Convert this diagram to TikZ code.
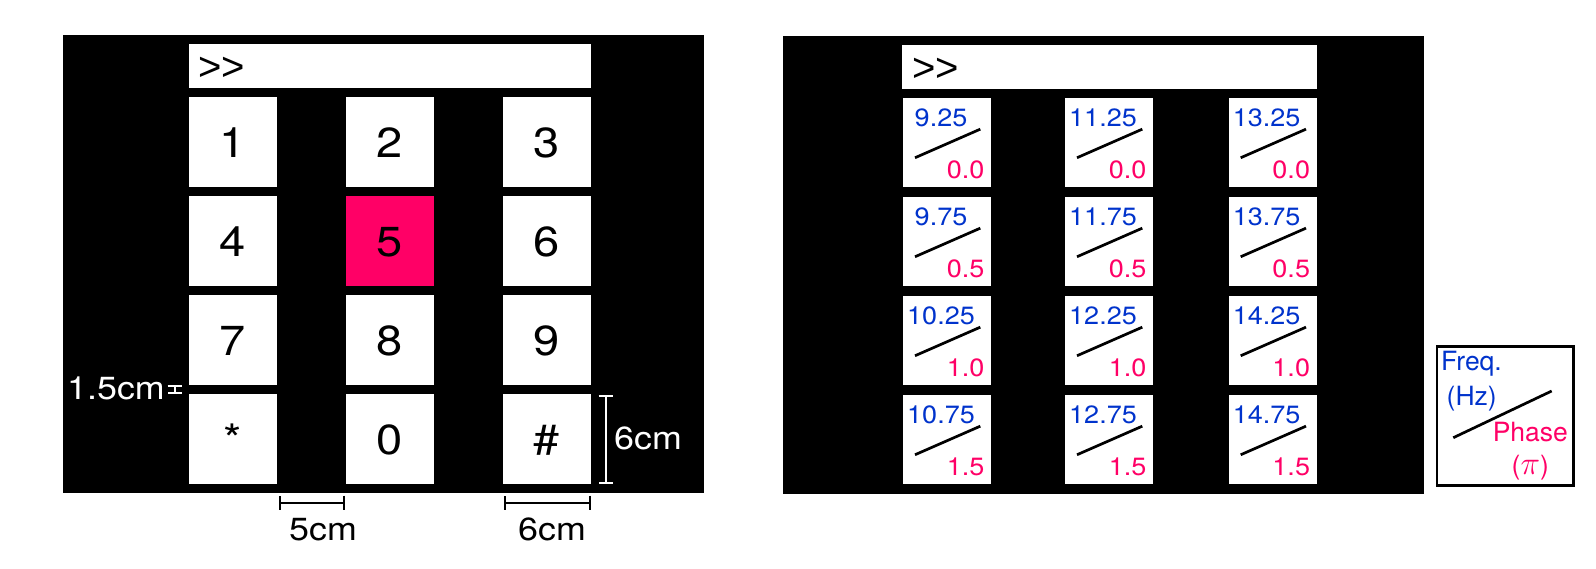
\RequirePackage{fix-cm}
\documentclass[tikz,border=0pt]{standalone}
\usepackage{fontspec}
\setmainfont{TeX Gyre Heros}
\newfontfamily\keyfam{TeX Gyre Heros}[FakeStretch=1.12]
\newfontfamily\cellfam{TeX Gyre Heros}[FakeStretch=1.08]
\newfontfamily\promptfam{Liberation Sans}[FakeStretch=1.0]
\usetikzlibrary{calc,arrows.meta}
\definecolor{hotpink}{RGB}{255,0,102}
\definecolor{freqblue}{RGB}{0,51,204}
\begin{document}
\begin{tikzpicture}[x=1pt,y=-1pt,
  panel/.style={fill=black,draw=none,inner sep=0,outer sep=0,anchor=north west},
  bar/.style={fill=white,draw=none,inner sep=0,outer sep=0,anchor=north west,minimum height=44pt},
  prompt/.style={anchor=base west,inner sep=0,font=\promptfam\fontsize{40}{40}\selectfont},
  key/.style={fill=white,draw=none,inner sep=0,outer sep=0,minimum width=88pt,minimum height=90pt,
    text height=30pt,text depth=0pt,font=\keyfam\fontsize{42}{42}\selectfont},
  cell/.style={fill=white,draw=none,inner sep=0,outer sep=0,minimum width=88pt,minimum height=89.5pt},
  freq/.style={text=freqblue,anchor=base,inner sep=0,font=\cellfam\fontsize{25}{25}\selectfont},
  phase/.style={text=hotpink,anchor=base east,inner sep=0,font=\cellfam\fontsize{25}{25}\selectfont},
  slash/.style={line width=2.7pt},
  dimtext/.style={anchor=base west,inner sep=0,font=\keyfam\fontsize{32}{32}\selectfont},
  dimline/.style={line width=2pt,{Bar[width=14pt]}-{Bar[width=14pt]}},
  legfont/.style={anchor=base,inner sep=0,font=\fontsize{26.5}{27}\selectfont}
]
\useasboundingbox (0,0) rectangle (1596,568);
\fill[white] (0,0) rectangle (1596,568);

% ---------- left panel ----------
\node[panel,minimum width=641.3pt,minimum height=457.7pt] (lpanel) at (62.7,35) {};
\node[bar,minimum width=401.5pt] (lbar) at (189,44) {};
\node[prompt] (lprompt) at ($(lbar.north west)+(9,36.5)$) {>>};

\node[key] (k1) at (233,142) {1};
\node[key] (k2) at (390,142) {2};
\node[key] (k3) at (547,142) {3};
\node[key] (k4) at (233,241) {4};
\node[key,fill=hotpink] (k5) at (390,241) {5};
\node[key] (k6) at (547,241) {6};
\node[key] (k7) at (233,340) {7};
\node[key] (k8) at (390,340) {8};
\node[key] (k9) at (547,340) {9};
\node[key] (kstar) at (233,439) {*};
\node[key] (k0) at (390,439) {0};
\node[key] (khash) at (547,439) {\#};

% dimensions
\coordinate (d15a) at ($(k7.south west)+(-14.5,0)$);
\coordinate (d15b) at ($(kstar.north west)+(-14.5,0)$);
\draw[dimline,white] (d15a) -- (d15b);
\node[dimtext,text=white] (t15) at (67,399) {1.5cm};

\coordinate (d5a) at ($(kstar.south east)+(1.5,18.5)$);
\coordinate (d5b) at ($(k0.south west)+(-1.5,18.5)$);
\draw[dimline,black] (d5a) -- (d5b);
\node[dimtext] (t5) at (289,540) {5cm};

\coordinate (d6a) at ($(khash.south west)+(0.5,18.5)$);
\coordinate (d6b) at ($(khash.south east)+(0,18.5)$);
\draw[dimline,black] (d6a) -- (d6b);
\node[dimtext] (t6h) at (518,540) {6cm};

\coordinate (d6c) at ($(khash.north east)+(14.7,1)$);
\coordinate (d6d) at ($(khash.south east)+(14.7,-0.5)$);
\draw[dimline,white] (d6c) -- (d6d);
\node[dimtext,text=white] (t6v) at (614,449.3) {6cm};

% ---------- right panel ----------
\node[panel,minimum width=641.3pt,minimum height=457.5pt] (rpanel) at (782.7,36) {};
\node[bar,minimum width=414.2pt] (rbar) at (902.3,45) {};
\node[prompt] (rprompt) at ($(rbar.north west)+(9.7,36.5)$) {>>};

\foreach \c/\cx/\fa/\fb/\fc/\fd in {1/947/9.25/9.75/10.25/10.75,
                                   2/1109/11.25/11.75/12.25/12.75,
                                   3/1272.7/13.25/13.75/14.25/14.75}{
  \foreach \r/\cy/\fr/\ph in {1/142.7/\fa/0.0, 2/241.7/\fb/0.5, 3/340.7/\fc/1.0, 4/439.7/\fd/1.5}{
    \node[cell] (c\c\r) at (\cx,\cy) {};
    \node[freq] (f\c\r) at ($(c\c\r.north west)+(38,28.8)$) {\fr};
    \node[phase] (p\c\r) at ($(c\c\r.north west)+(81.5,81)$) {\ph};
    \draw[slash] ($(c\c\r.north west)+(12,59.8)$) -- ($(c\c\r.north west)+(77.3,31.2)$);
  }
}

% ---------- legend ----------
\node[draw=black,line width=2.5pt,inner sep=0,outer sep=0,minimum width=136.5pt,minimum height=138.9pt] (legend) at (1505.2,416) {};
\node[legfont,text=freqblue] (lf1) at (1471.5,370.7) {Freq.};
\node[legfont,text=freqblue] (lf2) at (1471.7,405) {(Hz)};
\node[legfont,text=hotpink] (lp1) at (1530.3,441.7) {Phase};
\node[legfont,text=hotpink] (lp2) at (1530.3,474) {({\fontsize{33}{33}\selectfont\(\pi\)})};
\draw[slash] ($(legend.center)+(-51.9,21.7)$) -- ($(legend.center)+(46.5,-25)$);
\end{tikzpicture}
\end{document}
